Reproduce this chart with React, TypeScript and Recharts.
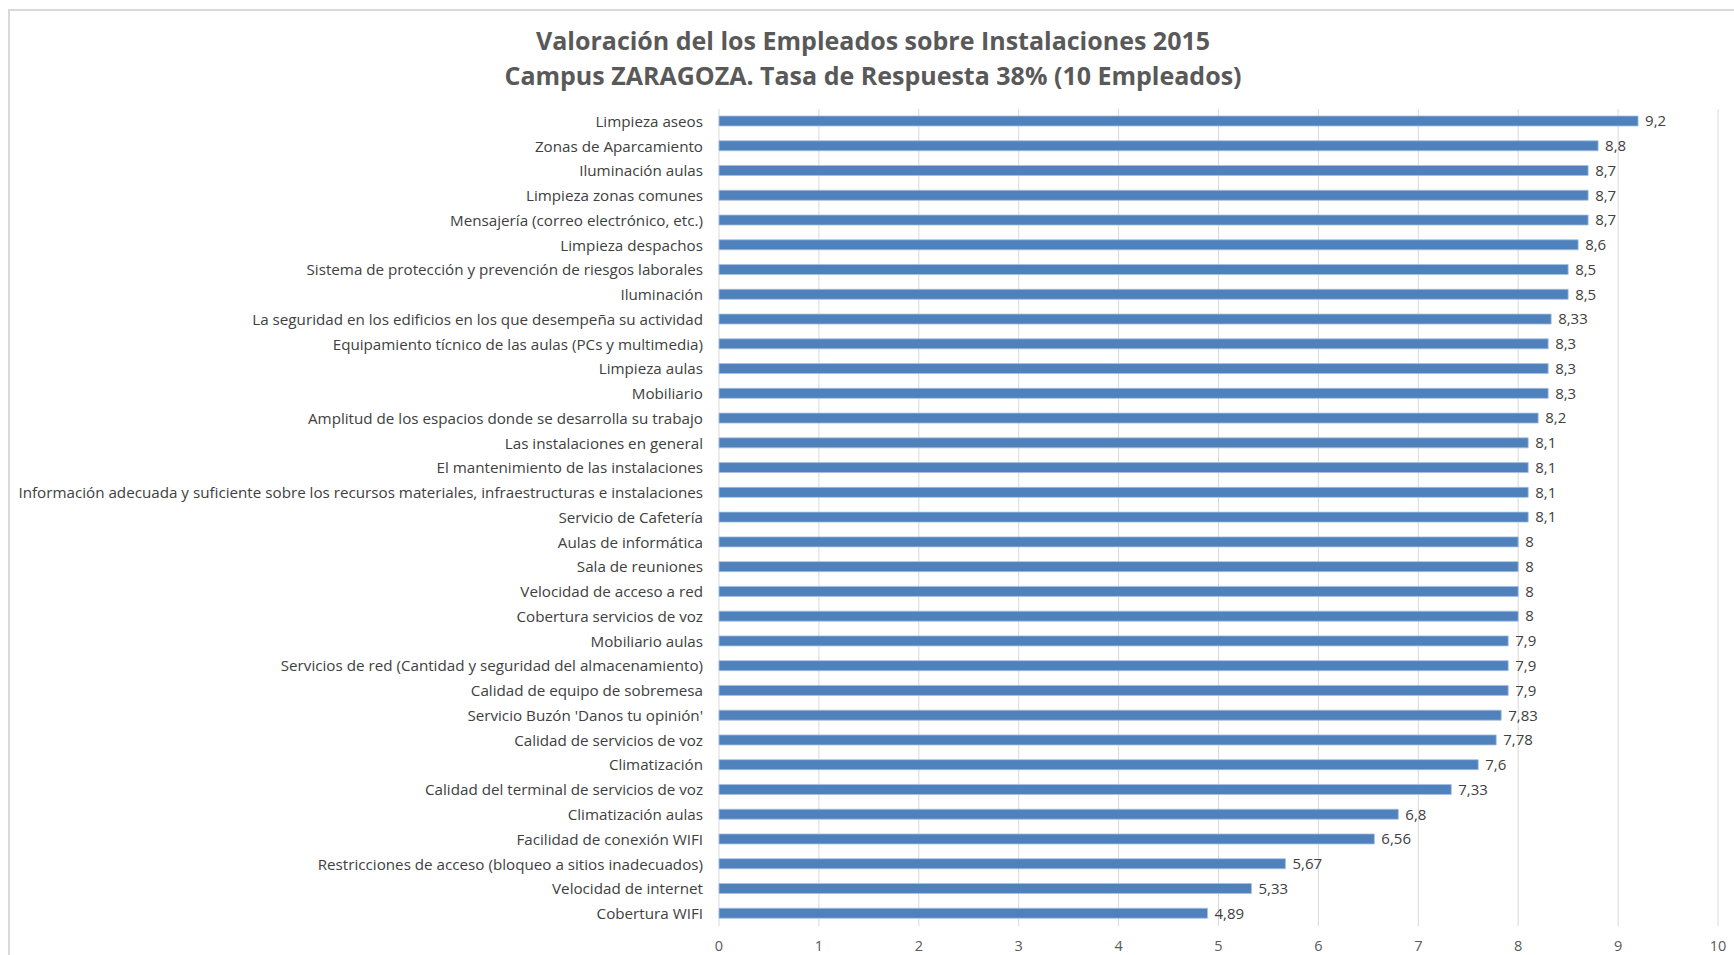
import React from 'react';
import { BarChart, Bar, XAxis, YAxis, CartesianGrid, LabelList } from 'recharts';

const categories = [
  'Limpieza aseos',
  'Zonas de Aparcamiento',
  'Iluminación aulas',
  'Limpieza zonas comunes',
  'Mensajería (correo electrónico, etc.)',
  'Limpieza despachos',
  'Sistema de protección y prevención de riesgos laborales',
  'Iluminación',
  'La seguridad en los edificios en los que desempeña su actividad',
  'Equipamiento tícnico de las aulas (PCs y multimedia)',
  'Limpieza aulas',
  'Mobiliario',
  'Amplitud de los espacios donde se desarrolla su trabajo',
  'Las instalaciones en general',
  'El mantenimiento de las instalaciones',
  'Información adecuada y suficiente sobre los recursos materiales, infraestructuras e instalaciones',
  'Servicio de Cafetería',
  'Aulas de informática',
  'Sala de reuniones',
  'Velocidad de acceso a red',
  'Cobertura servicios de voz',
  'Mobiliario aulas',
  'Servicios de red (Cantidad y seguridad del almacenamiento)',
  'Calidad de equipo de sobremesa',
  "Servicio Buzón 'Danos tu opinión'",
  'Calidad de servicios de voz',
  'Climatización',
  'Calidad del terminal de servicios de voz',
  'Climatización aulas',
  'Facilidad de conexión WIFI',
  'Restricciones de acceso (bloqueo a sitios inadecuados)',
  'Velocidad de internet',
  'Cobertura WIFI',
];

const scores = [
  9.2, 8.8, 8.7, 8.7, 8.7, 8.6, 8.5, 8.5, 8.33, 8.3, 8.3, 8.3, 8.2, 8.1, 8.1, 8.1, 8.1,
  8, 8, 8, 8, 7.9, 7.9, 7.9, 7.83, 7.78, 7.6, 7.33, 6.8, 6.56, 5.67, 5.33, 4.89,
];

const xTicks = [0, 1, 2, 3, 4, 5, 6, 7, 8, 9, 10];

const titleLines = [
  'Valoración del los Empleados sobre Instalaciones 2015',
  'Campus ZARAGOZA. Tasa de Respuesta 38% (10 Empleados)',
];

const data = categories.map((name, i) => ({ name, value: scores[i] }));

const FONT = '"Open Sans", sans-serif';

// excel style decimal comma
const fmt = (v: any) => String(v).replace('.', ',');

export default function App() {
  return (
    <div style={{ position: 'absolute', left: 0, top: 0, width: 1734, height: 955, background: '#fff', overflow: 'hidden', fontFamily: FONT }}>
      {/* chart frame, only top and left edges are visible */}
      <div
        style={{
          position: 'absolute',
          left: 8,
          top: 9,
          width: 1734,
          height: 955,
          borderLeft: '2px solid #d9d9d9',
          borderTop: '2px solid #d9d9d9',
        }}
      />

      {titleLines.map((t, i) => (
        <div
          key={t}
          style={{
            position: 'absolute',
            left: 0,
            width: 1746,
            top: 22 + i * 35,
            textAlign: 'center',
            fontSize: 25,
            fontWeight: 700,
            color: '#595959',
            lineHeight: '36px',
            whiteSpace: 'nowrap',
          }}
        >
          {t}
        </div>
      ))}

      <div style={{ position: 'absolute', left: 0, top: 0 }}>
        <BarChart
          width={1734}
          height={955}
          data={data}
          layout="vertical"
          margin={{ top: 109, right: 16, bottom: 0, left: 0 }}
        >
          <CartesianGrid horizontal={false} stroke="#d9d9d9" strokeWidth={1} />
          <XAxis
            type="number"
            domain={[0, 10]}
            ticks={xTicks}
            height={29}
            axisLine={false}
            tickLine={false}
            tickSize={0}
            tickMargin={15}
            tick={{ fontSize: 14.5, fill: '#595959', fontFamily: FONT }}
          />
          <YAxis
            type="category"
            dataKey="name"
            width={719}
            axisLine={false}
            tickLine={false}
            tickSize={0}
            tickMargin={16}
            interval={0}
            tick={{ fontSize: 15.2, fill: '#404040', fontFamily: FONT }}
          />
          <Bar dataKey="value" fill="#4f81bd" stroke="#a7bfdd" strokeWidth={0.8} barSize={10} isAnimationActive={false}>
            <LabelList
              dataKey="value"
              position="right"
              offset={7}
              formatter={fmt}
              style={{ fontSize: 15, fill: '#404040', fontFamily: FONT }}
            />
          </Bar>
        </BarChart>
      </div>
    </div>
  );
}
